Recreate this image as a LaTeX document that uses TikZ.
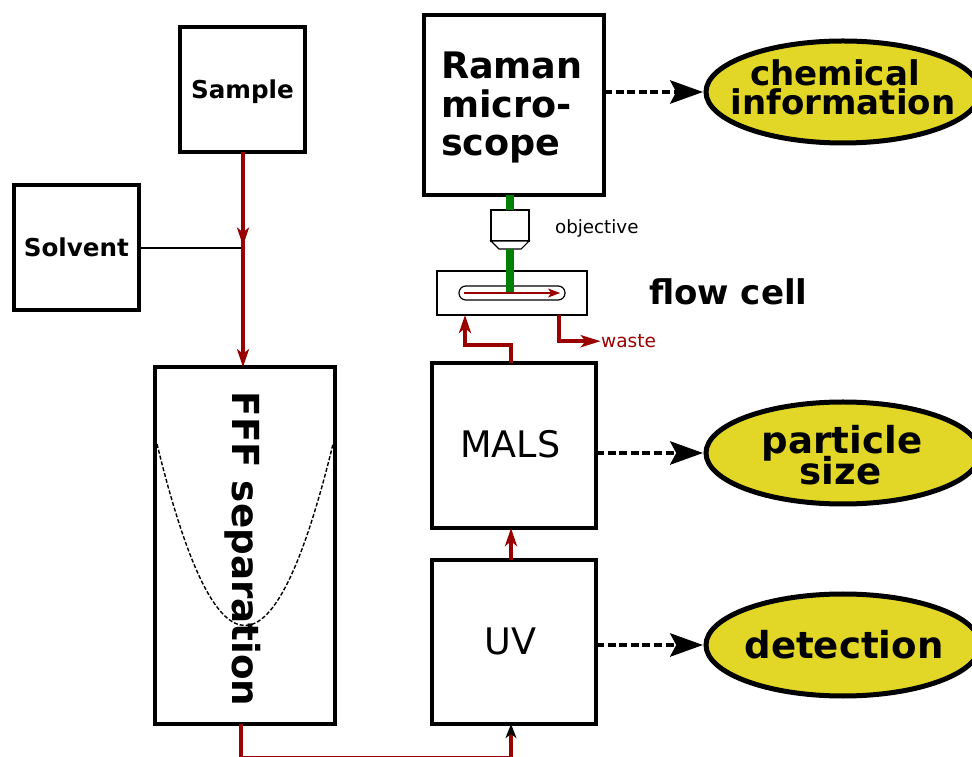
\documentclass[tikz,border=0pt]{standalone}
\usepackage{fontspec}
\setmainfont{DejaVu Sans}
\usetikzlibrary{calc,positioning,arrows.meta,shapes.geometric}
\definecolor{flowred}{HTML}{990000}
\definecolor{beamgreen}{HTML}{008000}
\definecolor{resultyellow}{HTML}{E2D726}
\tikzset{
	unitbox/.style={draw,rectangle,line width=1.1mm,outer sep=0pt,inner sep=0pt},
	result/.style={draw,ellipse,line width=1.25mm,fill=resultyellow,outer sep=0pt,inner sep=0pt,minimum width=68.5mm,minimum height=25.5mm},
	label/.style={inner sep=0pt,align=center},
	flow/.style={flowred,line width=1mm},
	flowtip/.style={-{Stealth[length=4.5mm,width=3mm,inset=1.2mm]}},
	beam/.style={beamgreen,line width=2.2mm},
	readout/.style={line width=1mm,dash pattern=on 2mm off 0.9mm,-{Stealth[length=8.2mm,width=5.8mm,inset=1.5mm]},shorten >=0.75mm},
}
\begin{document}
\begin{tikzpicture}
	\useasboundingbox (0mm,0mm) rectangle (243mm,189mm);
	%\draw[color=gray,step=5mm,help lines,opacity=0.3] (0mm,0mm) grid (243mm,189mm); %help grids
	% boxes
	\node[unitbox,minimum width=31.25mm,minimum height=31.25mm,text depth=0pt,font=\fontsize{17.5}{20}\bfseries\selectfont] (sample) at (60.6mm,166.6mm) {Sample};
	\node[unitbox,minimum width=31.25mm,minimum height=31.25mm,font=\fontsize{17.5}{20}\bfseries\selectfont] (solvent) at (19.1mm,127.1mm) {Solvent};
	\node[unitbox,minimum width=45mm,minimum height=89.25mm] (fff) at (61.25mm,52.6mm) {};
	\node[unitbox,minimum width=45mm,minimum height=45mm] (raman) at (128.5mm,162.75mm) {};
	\node[unitbox,minimum width=41mm,minimum height=41.25mm] (mals) at (128.5mm,77.6mm) {};
	\node[unitbox,minimum width=41mm,minimum height=41mm] (uv) at (128.5mm,28.5mm) {};
	\node[label,font=\fontsize{26}{30}\selectfont] (malstext) at (127.6mm,77.9mm) {MALS};
	\node[label,font=\fontsize{26}{30}\selectfont] (uvtext) at (127.6mm,28.75mm) {UV};
	\node[anchor=north west,inner sep=0pt,align=left,font=\fontsize{26}{27.2}\bfseries\selectfont] (ramantext) at (110.2mm,176mm) {Raman\\micro-\\scope};
	% results
	\node[result] (chem) at (210.75mm,166mm) {};
	\node[result] (size) at (210.75mm,75.75mm) {};
	\node[result] (detect) at (210.75mm,27.75mm) {};
	\node[label,font=\fontsize{24.2}{20.6}\bfseries\selectfont] (chemtext) at (210.75mm,167.1mm) {chemical\hspace*{4mm}\\information};
	\node[label,anchor=base,font=\fontsize{26.4}{30}\bfseries\selectfont] (sizetext) at (210.5mm,75.5mm) {particle};
	\node[label,anchor=base,font=\fontsize{26.4}{30}\bfseries\selectfont] (sizetexttwo) at (210.1mm,67.75mm) {size};
	\node[label,font=\fontsize{26.4}{30}\bfseries\selectfont] (detecttext) at (211mm,27.75mm) {detection};
	% FFF channel profile
	\draw[line width=0.35mm,dash pattern=on 1mm off 0.5mm] (39.25mm,78mm) .. controls (54mm,17.5mm) and (68.5mm,17.5mm) .. (83.25mm,78mm);
	\node[rotate=-90,inner sep=0pt,font=\fontsize{26.5}{30}\bfseries\selectfont] (ffftext) at (60.6mm,51.75mm) {FFF separation};
	% flow cell and objective
	\node[draw,rectangle,line width=0.6mm,outer sep=0pt,minimum width=37.5mm,minimum height=11mm] (cell) at (128mm,115.75mm) {};
	\node[draw,rectangle,rounded corners=1.7mm,line width=0.3mm,outer sep=0pt,minimum width=26.5mm,minimum height=3.5mm] (channel) at (128mm,115.75mm) {};
	\node[draw,rectangle,line width=0.3mm,outer sep=0pt,fill=white,minimum width=9.5mm,minimum height=7.75mm] (objective) at (127.5mm,132.6mm) {};
	\coordinate (lensleft) at ($(objective.south west)+(2mm,-2mm)$);
	\coordinate (lensright) at ($(objective.south east)+(-2mm,-2mm)$);
	\draw[line width=0.3mm,fill=white] (objective.south west)--(lensleft)--(lensright)--(objective.south east)--cycle;
	\draw[beam] (objective.north)--(objective.north |- raman.south);
	\draw[beam] ($(lensleft)!0.5!(lensright)$)--(objective.center |- channel.center);
	\coordinate (channelin) at ($(channel.west)+(1.2mm,0mm)$);
	\coordinate (channelout) at ($(channel.east)+(-1.2mm,0mm)$);
	\draw[flowred,line width=0.45mm,-{Stealth[length=3mm,width=2.2mm,inset=0.7mm]}] (channelin)--(channelout);
	\node[anchor=west,inner sep=0pt,font=\fontsize{13}{15}\selectfont] (objlabel) at (138.7mm,131.9mm) {objective};
	\node[anchor=west,inner sep=0pt,font=\fontsize{24.2}{26}\bfseries\selectfont] (celllabel) at (162.2mm,116mm) {flow cell};
	\node[anchor=west,inner sep=0pt,text=flowred,font=\fontsize{13.2}{15}\selectfont] (waste) at (150.2mm,103.7mm) {waste};
	% flow lines
	\coordinate (join) at (60.75mm,127.1mm);
	\coordinate (fffout) at (60.25mm,36.9mm);
	\coordinate (cellin) at (116.25mm,110.25mm);
	\coordinate (cellout) at (139.75mm,110.25mm);
	\coordinate (malsout) at (127.75mm,98.25mm);
	\draw[line width=0.5mm] (solvent.east)--(join);
	\draw[flow,flowtip] (join |- sample.south)--(join |- fff.north);
	\draw[flow,flowtip,shorten >=0.5mm] (join |- sample.south)--(join);
	\draw[flow,flowtip] (malsout |- uv.north)--(malsout |- mals.south);
	\draw[flow,flowtip] (malsout |- mals.north)--++(0mm,4.5mm)-|(cellin);
	\draw[flow,-{Stealth[length=5mm,width=3mm,inset=1.2mm]}] (cellout)|-(waste.west);
	\draw[flow,-{Stealth[length=3.5mm,width=2.7mm,inset=1mm,black]}] (fff.south -| fffout)--++(0mm,-8.45mm)-|(malsout |- uv.south);
	% readouts
	\draw[readout] (raman.east |- chem.west)--(chem.west);
	\draw[readout] (mals.east |- size.west)--(size.west);
	\draw[readout] (uv.east |- detect.west)--(detect.west);
\end{tikzpicture}
\end{document}
